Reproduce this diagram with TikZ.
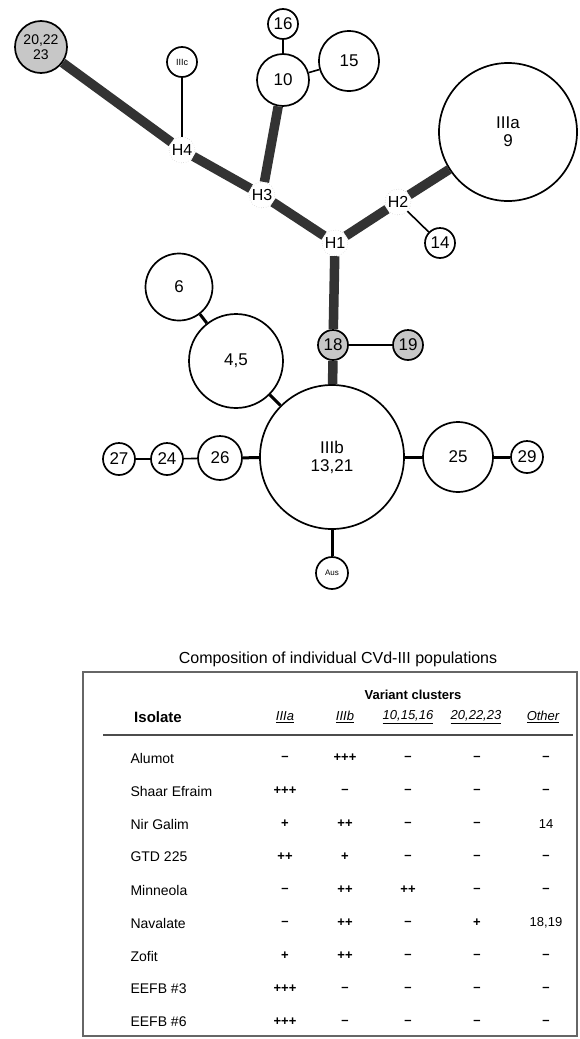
\documentclass[tikz,border=0pt]{standalone}
\usepackage{fontspec}
\setmainfont{Liberation Sans}
\begin{document}
\begin{tikzpicture}[x=1pt, y=-1pt,
  hap/.style={circle, draw, line width=1.7pt, inner sep=0pt, align=center, font=\fontsize{17}{18}\selectfont},
  shaded/.style={hap, fill=black!22},
  hub/.style={circle, draw=black!35, dotted, fill=white, inner sep=0pt, minimum size=26pt, font=\fontsize{16}{16}\selectfont},
  trunk/.style={line width=9.5pt, black!80},
  twig/.style={line width=1.6pt},
  stem/.style={line width=3pt},
  colhead/.style={font=\itshape\fontsize{13}{13}\selectfont},
  rowname/.style={anchor=west, font=\fontsize{14}{14}\selectfont},
  cell/.style={font=\bfseries\fontsize{13}{13}\selectfont}]
\useasboundingbox (0,0) rectangle (580,1039);
\node[shaded, minimum size=52pt, font=\fontsize{14}{15}\selectfont] (c20) at (41,47){20,22\\23};
\node[hap, minimum size=30pt, font=\fontsize{9}{9}\selectfont] (c3c) at (182,62){IIIc};
\node[hub] (h4) at (182,150){H4};
\node[hub] (h3) at (262,195){H3};
\node[hub] (h2) at (398,202){H2};
\node[hub] (h1) at (335,243){H1};
\node[hap, minimum size=30pt] (c16) at (283,24){16};
\node[hap, minimum size=52pt] (c10) at (283,80){10};
\node[hap, minimum size=60pt] (c15) at (349,61){15};
\node[hap, minimum size=138pt] (c3a) at (508,132){IIIa\\9};
\node[hap, minimum size=30pt] (c14) at (440,243){14};
\node[hap, minimum size=67pt] (c6) at (179,287){6};
\node[hap, minimum size=94pt] (c45) at (236,361){4,5};
\node[shaded, minimum size=30pt] (c18) at (333,345){18};
\node[shaded, minimum size=30pt] (c19) at (408,345){19};
\node[hap, minimum size=144pt] (c3b) at (332,457){IIIb\\13,21};
\node[hap, minimum size=44pt] (c26) at (220,458){26};
\node[hap, minimum size=32pt] (c24) at (167,459){24};
\node[hap, minimum size=32pt] (c27) at (119,459){27};
\node[hap, minimum size=70pt] (c25) at (458,457){25};
\node[hap, minimum size=32pt] (c29) at (527,457){29};
\node[hap, minimum size=32pt, font=\fontsize{8}{8}\selectfont] (caus) at (332,573){Aus};
\draw[trunk](c20) -- (h4);
\draw[trunk](h4) -- (h3);
\draw[trunk](h3) -- (c10);
\draw[trunk](h3) -- (h1);
\draw[trunk](h1) -- (h2);
\draw[trunk](h2) -- (c3a);
\draw[trunk](h1) -- (c18);
\draw[trunk](c18) -- (c3b);
\draw[twig](h4) -- (c3c);
\draw[twig](c16) -- (c10);
\draw[twig](c10) -- (c15);
\draw[twig](h2) -- (c14);
\draw[twig](c18) -- (c19);
\draw[twig](c27) -- (c24);
\draw[twig](c24) -- (c26);
\draw[stem](c6) -- (c45);
\draw[stem](c45) -- (c3b);
\draw[stem](c26) -- (c3b);
\draw[stem](c3b) -- (c25);
\draw[stem](c25) -- (c29);
\draw[stem](c3b) -- (caus);

\node[font=\fontsize{16}{16}\selectfont] (title) at (338,659){Composition of individual CVd-III populations};
\draw[black!60, line width=1.2pt] (83,672) rectangle (577,1036);
\node[font=\bfseries\fontsize{13}{13}\selectfont] (clusters) at (413,695){Variant clusters};
\node[font=\bfseries\fontsize{15}{15}\selectfont] (isolate) at (158,717){Isolate};
\node[colhead] (k1) at (285,717){\underline{IIIa}};
\node[colhead] (k2) at (345,717){\underline{IIIb}};
\node[colhead] (k3) at (408,717){\underline{10,15,16}};
\node[colhead] (k4) at (476,717){\underline{20,22,23}};
\node[colhead] (k5) at (543,717){\underline{Other}};
\coordinate (rulel) at (103,735);
\coordinate (ruler) at (573,735);
\draw[black!70, line width=1.2pt](rulel) -- (ruler);
\foreach \iso/\va/\vb/\vc/\vd/\ve [count=\i] in {Alumot/--/+++/--/--/--, Shaar Efraim/+++/--/--/--/--, Nir Galim/+/++/--/--/{\mdseries 14}, GTD 225/++/+/--/--/--, Minneola/--/++/++/--/--, Navalate/--/++/--/+/{\mdseries 18,19}, Zofit/+/++/--/--/--, EEFB \#3/+++/--/--/--/--, EEFB \#6/+++/--/--/--/--}
{
\node[rowname] (iso\i) at (127,725+33*\i){\iso};
\node[cell] (a\i) at (285,725+33*\i){\va};
\node[cell] (b\i) at (345,725+33*\i){\vb};
\node[cell] (c\i) at (408,725+33*\i){\vc};
\node[cell] (d\i) at (477,725+33*\i){\vd};
\node[cell] (e\i) at (546,725+33*\i){\ve};
}

\end{tikzpicture}
\end{document}
